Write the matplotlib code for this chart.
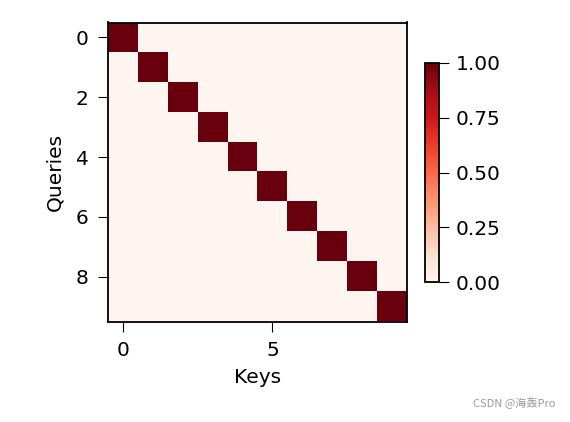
import numpy as np
import matplotlib
matplotlib.use("Agg")
import matplotlib.pyplot as plt

# attention weights: identity matrix (each query attends to its own key)
diag_values = [1, 1, 1, 1, 1, 1, 1, 1, 1, 1]
weights = np.diag(diag_values).astype(float)

plt.rcParams['font.size'] = 14.5
plt.rcParams['xtick.major.size'] = 7
plt.rcParams['ytick.major.size'] = 7
plt.rcParams['xtick.major.pad'] = 7
plt.rcParams['ytick.major.pad'] = 7
plt.rcParams['axes.linewidth'] = 1.3

fig = plt.figure(figsize=(5.7, 4.22), dpi=100)
ax = fig.add_axes([108 / 570, 1 - 322 / 422, 299 / 570, 300 / 422])
im = ax.imshow(weights, cmap='Reds', vmin=0, vmax=1.05)
im.set_clim(0, 1)
ax.set_xlabel('Keys', labelpad=6)
ax.set_ylabel('Queries', labelpad=8)
ax.set_xticks([0, 5])
ax.set_yticks([0, 2, 4, 6, 8])

cax = fig.add_axes([425 / 570, 1 - 282 / 422, 14 / 570, 219 / 422])
cb = fig.colorbar(im, cax=cax, ticks=[0, 0.25, 0.5, 0.75, 1.0])
cb.ax.set_yticklabels(['0.00', '0.25', '0.50', '0.75', '1.00'])
cb.ax.tick_params(length=7, pad=5)

fig.text(0.975, 0.03, 'CSDN @海轰Pro', ha='right', va='bottom', fontsize=8,
         color='#999999', family=['Noto Sans CJK SC', 'DejaVu Sans'])

fig.savefig('out.png', dpi=100)
